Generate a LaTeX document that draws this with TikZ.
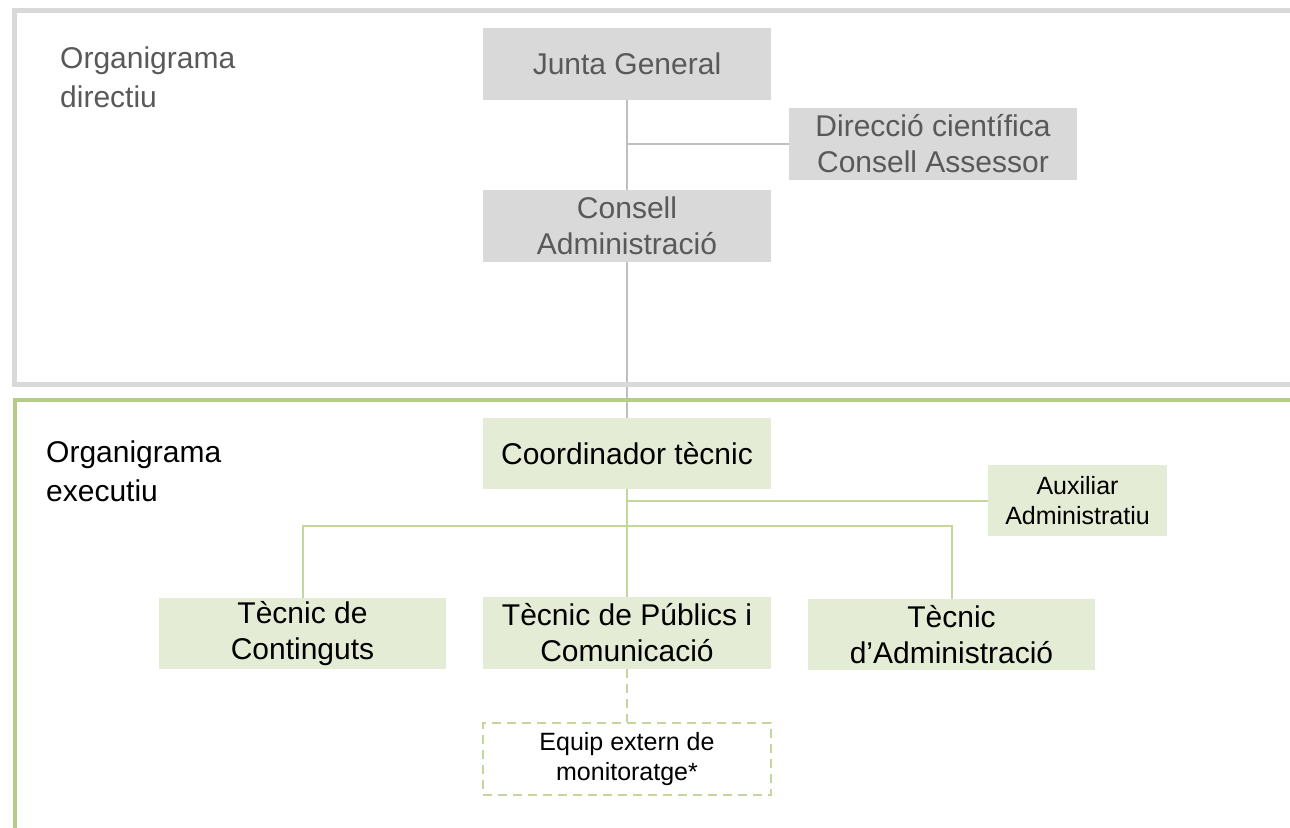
\documentclass[tikz,border=0pt]{standalone}
\usepackage{fontspec}
\setmainfont{Liberation Sans}
\usetikzlibrary{backgrounds}
\definecolor{gfill}{HTML}{D9D9D9}
\definecolor{gtext}{HTML}{595959}
\definecolor{gframe}{HTML}{D9D9D9}
\definecolor{gline}{HTML}{BFBFBF}
\definecolor{vfill}{HTML}{E4ECD5}
\definecolor{vframe}{HTML}{B3CC88}
\definecolor{vline}{HTML}{C3D69B}
\tikzset{
  x=1pt,y=-1pt,
  bigtxt/.style={font=\fontsize{30}{36}\selectfont},
  smalltxt/.style={font=\fontsize{25}{30}\selectfont},
  box/.style={inner sep=0pt,align=center,minimum width=288pt,minimum height=72pt},
  graybox/.style={box,fill=gfill,text=gtext,bigtxt},
  greenbox/.style={box,fill=vfill,text=black,bigtxt},
  dashbox/.style={box,draw=vline,line width=1.8pt,dash pattern=on 9pt off 6pt,text=black,smalltxt},
  glink/.style={draw=gline,line width=2pt},
  vlink/.style={draw=vline,line width=2pt},
  heading/.style={anchor=north west,align=left,inner sep=0pt,font=\fontsize{30}{38.5}\selectfont},
}
\begin{document}
\begin{tikzpicture}
\useasboundingbox (0,0) rectangle (1290,827);
% frames
\draw[gframe,line width=5pt] (1300,10) -- (14,10) -- (14,384) -- (1300,384);
\draw[vframe,line width=4pt] (1300,400) -- (15,400) -- (15,840);
% headings
\node[heading,text=gtext] (hd) at (60,47) {Organigrama\\directiu};
\node[heading,text=black] (he) at (46,441) {Organigrama\\executiu};
% boxes
\node[graybox] (JG) at (627,64) {Junta General};
\node[graybox] (DC) at (933,144) {Direcció científica\\Consell Assessor};
\node[graybox] (CA) at (627,226) {Consell\\Administració};
\node[greenbox,minimum height=71pt] (CT) at (627,453.5) {Coordinador tècnic};
\node[greenbox,smalltxt,minimum width=179pt,minimum height=71pt] (AA) at (1077.5,500.5) {Auxiliar\\Administratiu};
\node[greenbox,minimum width=287pt,minimum height=71pt] (TC) at (302.5,633.5) {Tècnic de\\Continguts};
\node[greenbox] (TP) at (627,633) {Tècnic de Públics i\\Comunicació};
\node[greenbox,minimum width=287pt,minimum height=71pt] (TA) at (951.5,634.5) {Tècnic\\d’Administració};
\node[dashbox] (EE) at (627,759) {Equip extern de\\monitoratge*};
\coordinate (bus) at (627,526);
% connectors
\begin{scope}[on background layer]
\draw[glink] (JG.south) -- (CT.north);
\draw[glink] (JG.south |- DC.west) -- (DC.west);
\draw[vlink] (CT.south) -- (TP.north);
\draw[vlink] (CT.south |- AA.west) -- (AA.west);
\draw[vlink] (TC.north) |- (bus) -| (TA.north);
\end{scope}
\draw[vlink,dash pattern=on 9pt off 6pt] (TP.south) -- (EE.north);
\end{tikzpicture}
\end{document}
